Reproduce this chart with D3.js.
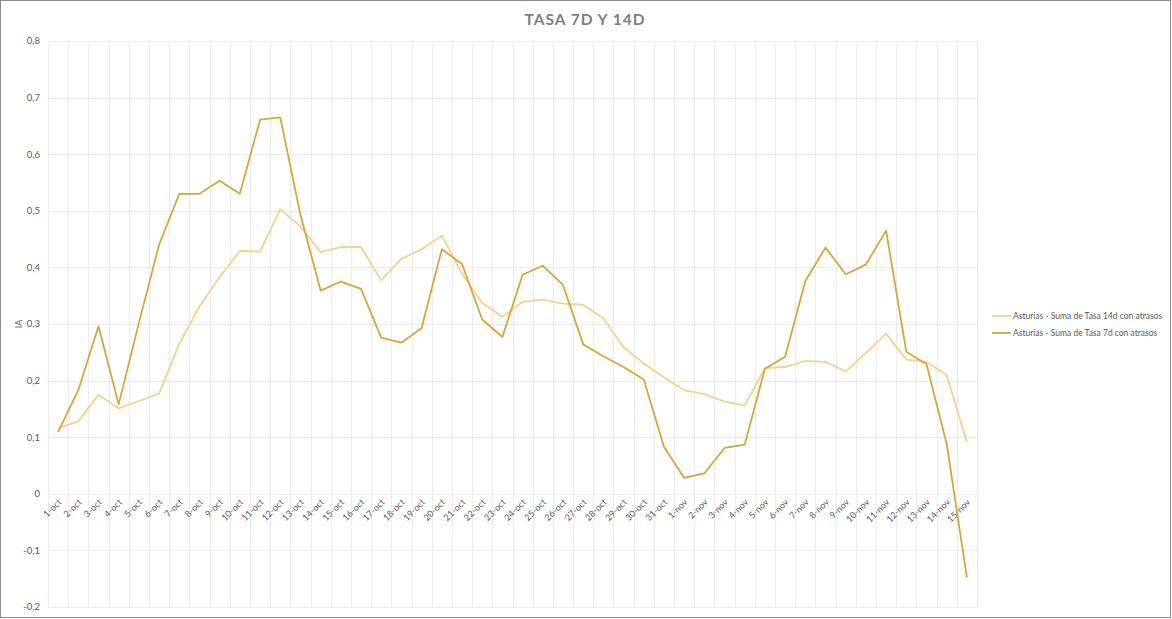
<!DOCTYPE html>
<html>
<head>
<meta charset="utf-8">
<script src="https://cdn.jsdelivr.net/npm/d3@7"></script>
<style>
  body { margin: 0; background: #fff; }
  svg text { font-family: "Lato", "Liberation Sans", sans-serif; }
</style>
</head>
<body>
<svg id="chart"></svg>
<script>
const width = 1172;
const height = 619;

const days = [
    "1-oct", "2-oct", "3-oct", "4-oct", "5-oct", "6-oct", "7-oct", "8-oct", "9-oct", "10-oct",
    "11-oct", "12-oct", "13-oct", "14-oct", "15-oct", "16-oct", "17-oct", "18-oct", "19-oct", "20-oct",
    "21-oct", "22-oct", "23-oct", "24-oct", "25-oct", "26-oct", "27-oct", "28-oct", "29-oct", "30-oct",
    "31-oct", "1-nov", "2-nov", "3-nov", "4-nov", "5-nov", "6-nov", "7-nov", "8-nov", "9-nov",
    "10-nov", "11-nov", "12-nov", "13-nov", "14-nov", "15-nov"
];

const tasa14d = [
    0.116, 0.128, 0.175, 0.151, 0.164, 0.177, 0.265, 0.331, 0.383, 0.429,
    0.428, 0.503, 0.472, 0.427, 0.436, 0.436, 0.377, 0.415, 0.432, 0.456,
    0.389, 0.337, 0.313, 0.339, 0.343, 0.336, 0.334, 0.310, 0.259, 0.230,
    0.206, 0.183, 0.176, 0.163, 0.156, 0.222, 0.224, 0.235, 0.233, 0.216,
    0.249, 0.283, 0.237, 0.233, 0.210, 0.091
];

const tasa7d = [
    0.109, 0.183, 0.296, 0.158, 0.302, 0.440, 0.530, 0.530, 0.553, 0.530,
    0.661, 0.665, 0.493, 0.359, 0.375, 0.362, 0.276, 0.267, 0.293, 0.432,
    0.406, 0.308, 0.277, 0.387, 0.403, 0.369, 0.264, 0.243, 0.224, 0.202,
    0.083, 0.028, 0.036, 0.081, 0.087, 0.221, 0.242, 0.376, 0.435, 0.388,
    0.405, 0.465, 0.251, 0.229, 0.088, -0.148
];

const yTicks = [-0.2, -0.1, 0, 0.1, 0.2, 0.3, 0.4, 0.5, 0.6, 0.7, 0.8];

const series = [
    { name: "Asturias - Suma de Tasa 14d con atrasos", values: tasa14d, color: "#F5D28E" },
    { name: "Asturias - Suma de Tasa 7d con atrasos", values: tasa7d, color: "#D5A73C" }
];

const margin = { top: 41, right: 195, bottom: 12, left: 48 };

const svg = d3.select("#chart")
    .attr("width", width)
    .attr("height", height);

// outer frame
svg.append("rect")
    .attr("x", 0.5).attr("y", 0.5)
    .attr("width", width - 2).attr("height", height - 2)
    .attr("fill", "#fff")
    .attr("stroke", "#8c8c8c");

const x = d3.scaleBand()
    .domain(days)
    .range([margin.left, width - margin.right]);

const y = d3.scaleLinear()
    .domain([-0.2, 0.8])
    .range([height - margin.bottom, margin.top]);

const grid = svg.append("g").attr("class", "grid");

// horizontal gridlines
grid.selectAll("line.h")
    .data(yTicks)
    .join("line")
    .attr("class", "h")
    .attr("x1", margin.left)
    .attr("x2", width - margin.right)
    .attr("y1", d => Math.round(y(d)) + 0.5)
    .attr("y2", d => Math.round(y(d)) + 0.5)
    .attr("stroke", "#ececec");

// vertical gridlines on the category boundaries
grid.selectAll("line.v")
    .data(days.concat(["end"]))
    .join("line")
    .attr("class", "v")
    .attr("x1", (d, i) => Math.round(margin.left + i * x.bandwidth()) + 0.5)
    .attr("x2", (d, i) => Math.round(margin.left + i * x.bandwidth()) + 0.5)
    .attr("y1", margin.top)
    .attr("y2", height - margin.bottom)
    .attr("stroke", "#ececec");

// y axis labels
const fmt = d => d === 0 ? "0" : d3.format(".1f")(d).replace(".", ",").replace("−", "-");
svg.append("g")
    .selectAll("text")
    .data(yTicks)
    .join("text")
    .attr("x", 40)
    .attr("y", d => y(d))
    .attr("dy", "0.35em")
    .attr("text-anchor", "end")
    .attr("font-size", 9.5)
    .attr("fill", "#595959")
    .text(fmt);

// x axis labels sit along the zero line
svg.append("g")
    .selectAll("text")
    .data(days)
    .join("text")
    .attr("transform", d => `translate(${x(d) + x.bandwidth() / 2 + 4}, ${y(0) + 9}) rotate(-45)`)
    .attr("text-anchor", "end")
    .attr("font-size", 9)
    .attr("fill", "#595959")
    .text(d => d);

// lines
const line = d3.line()
    .x((d, i) => x(days[i]) + x.bandwidth() / 2)
    .y(d => y(d));

svg.append("g")
    .selectAll("path")
    .data(series)
    .join("path")
    .attr("fill", "none")
    .attr("stroke", d => d.color)
    .attr("stroke-width", 1.8)
    .attr("stroke-linejoin", "round")
    .attr("d", d => line(d.values));

// title
svg.append("text")
    .attr("x", 585)
    .attr("y", 25)
    .attr("text-anchor", "middle")
    .attr("font-size", 15.5)
    .attr("font-weight", "bold")
    .attr("letter-spacing", 1)
    .attr("fill", "#7f7f7f")
    .text("TASA 7D Y 14D");

// y axis title
svg.append("text")
    .attr("transform", `translate(22, ${y(0.3)}) rotate(-90)`)
    .attr("text-anchor", "middle")
    .attr("font-size", 9)
    .attr("fill", "#595959")
    .text("IA");

// legend
const legend = svg.append("g")
    .selectAll("g")
    .data(series)
    .join("g")
    .attr("transform", (d, i) => `translate(992, ${316 + i * 17})`);

legend.append("line")
    .attr("x1", 0).attr("x2", 19)
    .attr("stroke", d => d.color)
    .attr("stroke-width", 1.8);

legend.append("text")
    .attr("x", 21)
    .attr("dy", "0.35em")
    .attr("font-size", 8.5)
    .attr("fill", "#595959")
    .text(d => d.name);
</script>
</body>
</html>
